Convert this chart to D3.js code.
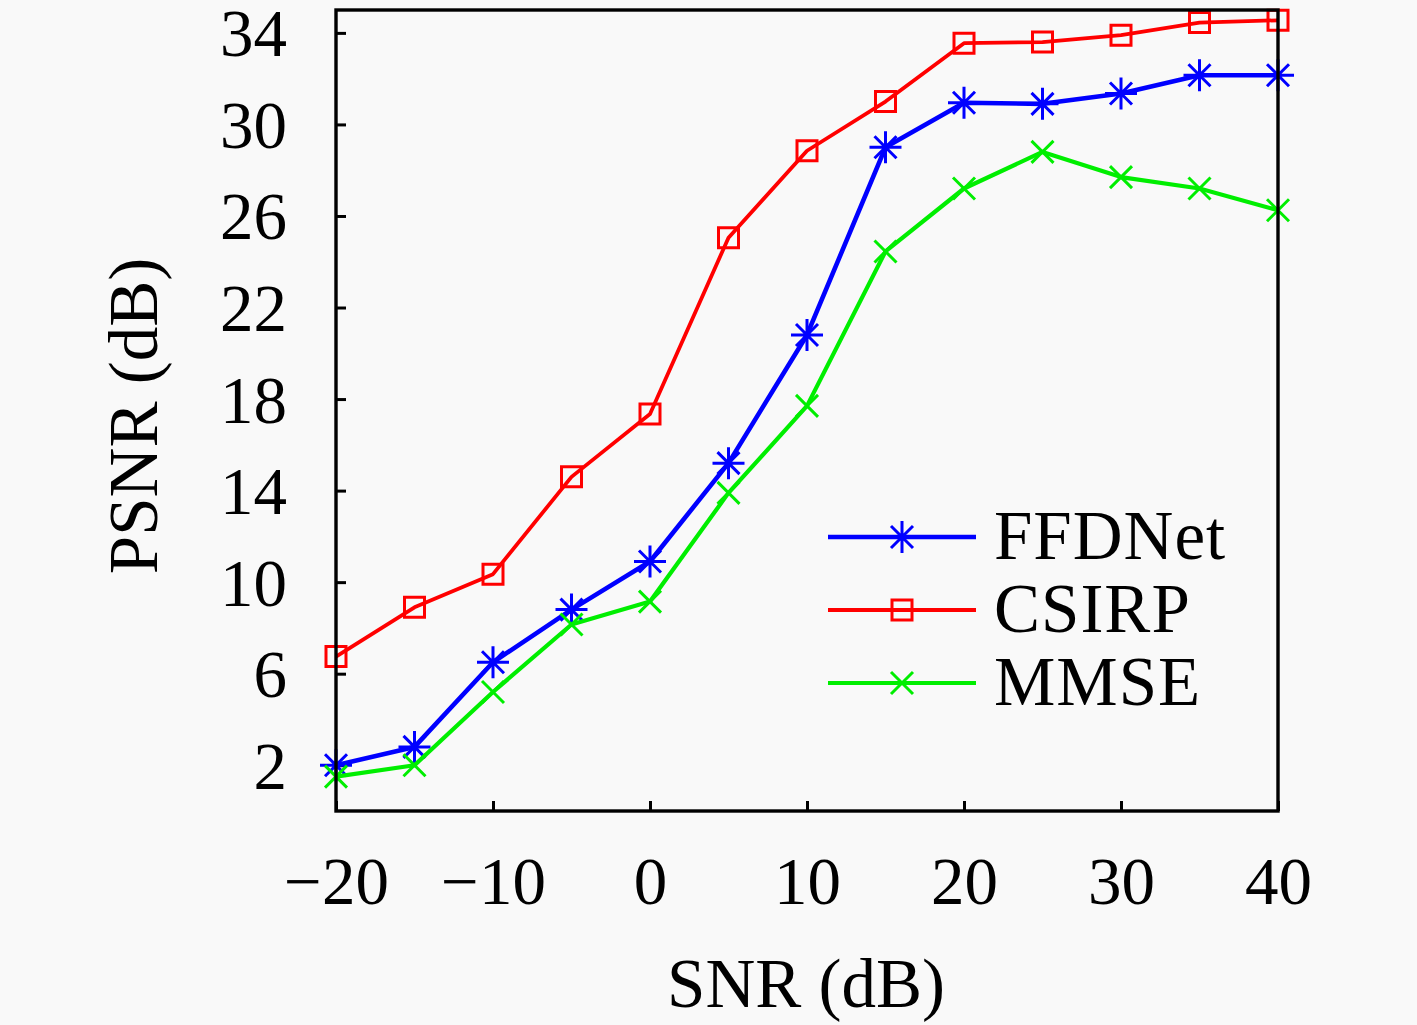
<!DOCTYPE html>
<html>
<head>
<meta charset="utf-8">
<script src="https://cdn.jsdelivr.net/npm/d3@7"></script>
<style>
    html, body { margin: 0; padding: 0; background: #f9f9f9; }
    svg { display: block; }
    text { font-family: "Liberation Serif", "DejaVu Serif", serif; fill: #000; }
</style>
</head>
<body>
<svg id="chart"></svg>
<script>
// 横轴 SNR (dB)
const snr = [-20, -15, -10, -5, 0, 5, 10, 15, 20, 25, 30, 35, 40];
// 各方法的 PSNR (dB)
const ffdnet = [2.0, 2.8, 6.5, 8.8, 10.9, 15.2, 20.8, 29.0, 30.95, 30.9, 31.35, 32.15, 32.15];
const csirp = [6.75, 8.9, 10.35, 14.6, 17.35, 25.05, 28.85, 31.0, 33.55, 33.6, 33.9, 34.45, 34.55];
const mmse = [1.5, 2.0, 5.2, 8.15, 9.15, 13.9, 17.7, 24.45, 27.2, 28.8, 27.7, 27.2, 26.25];
const seriesNames = ['FFDNet', 'CSIRP', 'MMSE'];
const xTicks = [-20, -10, 0, 10, 20, 30, 40];
const yTicks = [2, 6, 10, 14, 18, 22, 26, 30, 34];

const width = 1417;
const height = 1025;
const margin = { left: 336, right: 139, top: 10, bottom: 214 };

const svg = d3.select('#chart')
    .attr('width', width)
    .attr('height', height);

const x = d3.scaleLinear().domain([-20, 40]).range([margin.left, width - margin.right]);
const y = d3.scaleLinear().domain([0, 35]).range([height - margin.bottom, margin.top]);

const series = [
    { name: seriesNames[0], values: ffdnet, color: '#0000ff', marker: 'star', lw: 4.6 },
    { name: seriesNames[1], values: csirp, color: '#ff0000', marker: 'square', lw: 3.8 },
    { name: seriesNames[2], values: mmse, color: '#00ee00', marker: 'cross', lw: 4.2 }
];

// 标记形状
const markerPath = (type) => {
    if (type === 'square') {
        const s = 10;
        return `M${-s},${-s}H${s}V${s}H${-s}Z`;
    }
    if (type === 'cross') {
        const s = 11;
        return `M${-s},${-s}L${s},${s}M${-s},${s}L${s},${-s}`;
    }
    const a = 16, b = 11;
    return `M0,${-a}V${a}M${-a},0H${a}M${-b},${-b}L${b},${b}M${-b},${b}L${b},${-b}`;
};

// 坐标轴
const xAxis = d3.axisBottom(x).tickValues(xTicks).tickSize(-10).tickPadding(22)
    .tickFormat((d) => d < 0 ? '\u2212' + Math.abs(d) : d);
const yAxis = d3.axisLeft(y).tickValues(yTicks).tickSize(-10).tickPadding(50);

const gx = svg.append('g')
    .attr('transform', 'translate(0,' + (height - margin.bottom) + ')')
    .call(xAxis);
const gy = svg.append('g')
    .attr('transform', 'translate(' + margin.left + ',0)')
    .call(yAxis);

[gx, gy].forEach((g) => {
    g.select('.domain').remove();
    g.selectAll('.tick line').attr('stroke', '#000').attr('stroke-width', 3);
    g.selectAll('.tick text')
        .style('font-family', '"Liberation Serif", serif')
        .style('font-size', '67px')
        .attr('fill', '#000');
});
gx.selectAll('.tick text').attr('dy', null).attr('y', 93);
gy.selectAll('.tick text').attr('dy', null).attr('x', -49).attr('y', 23);

// 曲线
const line = d3.line()
    .x((d, i) => x(snr[i]))
    .y((d) => y(d));

series.forEach((s) => {
    const g = svg.append('g').attr('class', 'series');
    g.append('path')
        .datum(s.values)
        .attr('d', line)
        .attr('fill', 'none')
        .attr('stroke', s.color)
        .attr('stroke-width', s.lw)
        .attr('stroke-linejoin', 'round');
    g.selectAll('path.marker')
        .data(s.values)
        .enter().append('path')
        .attr('class', 'marker')
        .attr('transform', (d, i) => 'translate(' + x(snr[i]) + ',' + y(d) + ')')
        .attr('d', markerPath(s.marker))
        .attr('fill', 'none')
        .attr('stroke', s.color)
        .attr('stroke-width', 3);
});

// 边框
svg.append('rect')
    .attr('x', margin.left)
    .attr('y', margin.top)
    .attr('width', width - margin.left - margin.right)
    .attr('height', height - margin.top - margin.bottom)
    .attr('fill', 'none')
    .attr('stroke', '#000')
    .attr('stroke-width', 3.4);

// 图例
const legend = svg.append('g').attr('transform', 'translate(828,537)');
series.forEach((s, i) => {
    const row = legend.append('g').attr('transform', 'translate(0,' + (i * 73) + ')');
    row.append('line')
        .attr('x1', 0).attr('x2', 148)
        .attr('stroke', s.color)
        .attr('stroke-width', s.lw);
    row.append('path')
        .attr('transform', 'translate(74,0)')
        .attr('d', markerPath(s.marker))
        .attr('fill', 'none')
        .attr('stroke', s.color)
        .attr('stroke-width', 3);
    row.append('text')
        .attr('x', 166)
        .attr('y', 22)
        .style('font-size', '69px')
        .style('letter-spacing', '1px')
        .text(s.name);
});

// 轴标题
svg.append('text')
    .attr('x', 806)
    .attr('y', 1007)
    .attr('text-anchor', 'middle')
    .style('font-size', '69px')
    .text('SNR (dB)');
svg.append('text')
    .attr('transform', 'translate(157,416) rotate(-90)')
    .attr('text-anchor', 'middle')
    .style('font-size', '69px')
    .text('PSNR (dB)');
</script>
</body>
</html>
